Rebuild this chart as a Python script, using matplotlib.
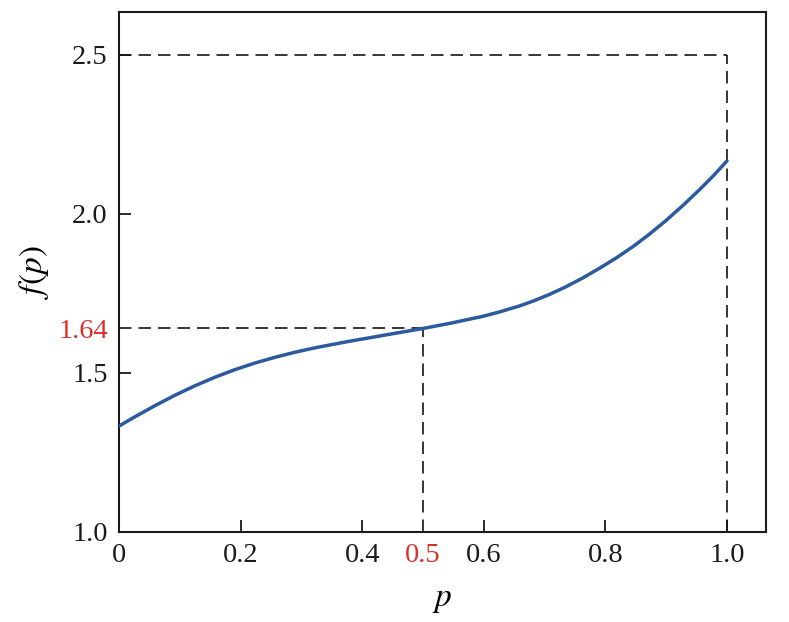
import numpy as np
import matplotlib
matplotlib.use('Agg')
import matplotlib.pyplot as plt

plt.rcParams['font.family']      = 'serif'
plt.rcParams['font.serif']       = ['Liberation Serif', 'DejaVu Serif']
plt.rcParams['mathtext.fontset'] = 'stix'

# values
p_vals = [0.000, 0.026, 0.058, 0.091, 0.124, 0.157, 0.190, 0.223, 0.256, 0.289,
          0.322, 0.352, 0.380, 0.407, 0.434, 0.461, 0.500, 0.544, 0.598, 0.626,
          0.659, 0.681, 0.708, 0.735, 0.762, 0.790, 0.818, 0.845, 0.872, 0.900,
          0.927, 0.954, 0.977, 1.000]
f_vals = [1.333, 1.362, 1.396, 1.429, 1.459, 1.486, 1.510, 1.531, 1.549, 1.565,
          1.579, 1.590, 1.600, 1.609, 1.618, 1.627, 1.640, 1.656, 1.678, 1.692,
          1.711, 1.726, 1.747, 1.771, 1.798, 1.829, 1.862, 1.897, 1.936, 1.980,
          2.026, 2.075, 2.119, 2.167]

x_ticks      = [0, 0.2, 0.4, 0.5, 0.6, 0.8, 1.0]
x_ticklabels = ['0', '0.2', '0.4', '0.5', '0.6', '0.8', '1.0']
y_ticks      = [1.0, 1.5, 1.64, 2.0, 2.5]
y_ticklabels = ['1.0', '1.5', '1.64', '2.0', '2.5']

p_mark, f_mark = 0.5, 1.64
p_end,  f_top  = 1.0, 2.5

red   = '#d9302c'
blue  = '#2b5a9e'
dashc = '#151515'

fig = plt.figure(figsize=(7.89, 6.22), dpi=100)
ax  = fig.add_axes([0.1508, 0.1447, 0.8200, 0.8360])

ax.plot(p_vals, f_vals, color=blue, lw=2.5, zorder=3,
        solid_joinstyle='round', solid_capstyle='round')

dash = dict(color=dashc, lw=1.2, dashes=(7.5, 4.2), zorder=2)
ax.plot([0, p_end], [f_top, f_top], **dash)
ax.plot([p_end, p_end], [1.0, f_top], **dash)
ax.plot([0, p_mark], [f_mark, f_mark], **dash)
ax.plot([p_mark, p_mark], [1.0, f_mark], **dash)

ax.set_xlim(0, 1.064)
ax.set_ylim(1.0, 2.635)

ax.set_xticks(x_ticks)
ax.set_xticklabels(x_ticklabels)
ax.set_yticks(y_ticks)
ax.set_yticklabels(y_ticklabels)

ax.tick_params(direction='in', length=8.5, width=1.3, labelsize=20.5, colors='#1a1a1a')
ax.tick_params(axis='x', pad=8)
ax.tick_params(axis='y', pad=8)

ax.get_xticklabels()[3].set_color(red)
ax.get_yticklabels()[2].set_color(red)
ax.xaxis.get_major_ticks()[3].tick1line.set_visible(False)
ax.yaxis.get_major_ticks()[2].tick1line.set_visible(False)

for sp in ax.spines.values():
    sp.set_linewidth(1.5)
    sp.set_color('#1a1a1a')

ax.set_xlabel('$p$', fontsize=24, labelpad=12)
ax.set_ylabel('$f(p)$', fontsize=24, labelpad=5)

plt.savefig('out.png', dpi=100)
